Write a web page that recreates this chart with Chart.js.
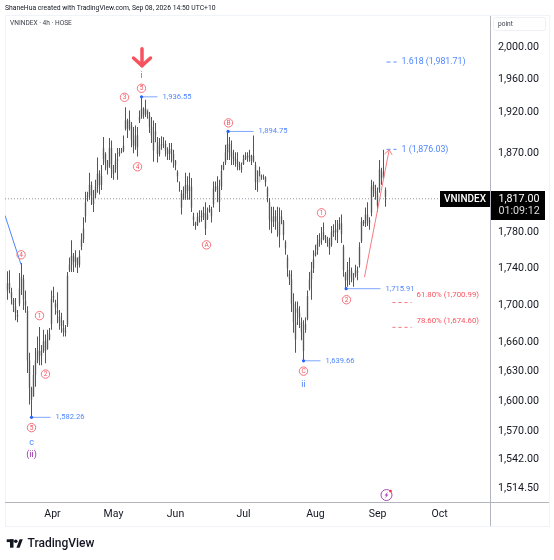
<!DOCTYPE html>
<html>
<head>
<meta charset="utf-8">
<title>VNINDEX 4h</title>
<script src="https://cdn.jsdelivr.net/npm/chart.js@4"></script>
<style>
html, body { margin: 0; padding: 0; background: #fff; }
#graph-parent { position: relative; width: 554px; height: 560px; }
canvas { display: block; }
</style>
</head>
<body>
<div id="graph-parent"><canvas id="graph" width="554" height="560" role="img" aria-label="VNINDEX 4h chart"></canvas></div>
<script>
// one row = 10 bars
const highs = [
1735,1736,1717,1706,1706,1693,1733,1744,1731,1714,
1697,1648,1613,1635,1653,1665,1675,1656,1672,1667,
1672,1674,1714,1718,1704,1712,1693,1690,1682,1677,
1734,1750,1769,1755,1758,1750,1758,1777,1795,1824,
1824,1846,1836,1826,1838,1864,1849,1855,1888,1870,
1861,1887,1884,1855,1869,1875,1875,1875,1890,1924,
1910,1920,1906,1900,1902,1900,1920,1936.55,1924,1933,
1920,1918,1912,1908,1905,1888,1887,1889,1888,1884,
1876,1881,1881,1873,1861,1849,1836,1826,1830,1846,
1842,1846,1840,1800,1790,1800,1803,1803,1807,1812,
1806,1809,1807,1836,1836,1842,1838,1855,1859,1879,
1894.75,1888,1884,1873,1870,1870,1859,1858,1867,1870,
1870,1873,1867,1890,1859,1849,1853,1844,1844,1842,
1830,1817,1807,1807,1803,1807,1806,1803,1792,1769,
1753,1736,1736,1711,1702,1702,1697,1685,1682,1685,
1714,1734,1745,1758,1764,1775,1777,1784,1789,1775,
1773,1772,1785,1787,1792,1792,1795,1798,1764,1734,
1745,1750,1739,1733,1742,1740,1767,1795,1792,1806,
1812,1795,1838,1836,1832,1829,1861,1852,1873,1829]
const lows = [
1704,1711,1699,1691,1682,1680,1697,1709,1693,1690,
1627,1595,1582.26,1603,1613,1637,1635,1635,1648,1637,
1651,1661,1672,1701,1688,1679,1672,1669,1665,1665,
1675,1734,1734,1734,1739,1733,1739,1758,1766,1789,
1813,1815,1809,1801,1817,1823,1821,1826,1855,1849,
1844,1852,1840,1838,1846,1838,1865,1869,1870,1896,
1887,1896,1876,1869,1873,1865,1905,1910,1910,1912,
1910,1893,1881,1859,1882,1858,1865,1873,1875,1865,
1861,1861,1858,1852,1849,1835,1824,1798,1815,1815,
1815,1815,1801,1785,1781,1785,1789,1790,1792,1775,
1792,1800,1789,1806,1824,1812,1801,1826,1849,1855,
1861,1861,1855,1855,1853,1849,1849,1846,1855,1861,
1859,1859,1855,1858,1826,1824,1842,1838,1838,1830,
1812,1781,1777,1784,1781,1773,1761,1787,1769,1753,
1729,1720,1691,1669,1648,1677,1674,1661,1639.66,1669,
1682,1714,1704,1733,1751,1753,1762,1764,1769,1766,
1762,1753,1762,1773,1769,1766,1781,1766,1729,1715.91,
1718,1720,1723,1718,1728,1725,1739,1766,1785,1784,
1785,1781,1796,1818,1815,1801,1823,1832,1838,1807]
const opens = [
1714,1722,1712,1704,1697,1688,1700,1716,1726,1703,
1692,1640,1612,1603,1625,1640,1650,1645,1650,1660,
1652,1662,1678,1706,1700,1690,1686,1682,1674,1669,
1678,1736,1742,1752,1745,1750,1742,1762,1770,1796,
1820,1820,1832,1820,1820,1830,1845,1832,1862,1868,
1858,1856,1875,1850,1850,1860,1868,1871,1872,1898,
1908,1898,1902,1885,1878,1890,1908,1912,1922,1915,
1922,1914,1900,1890,1890,1882,1868,1878,1880,1880,
1872,1868,1874,1868,1860,1847,1830,1822,1815,1822,
1832,1825,1830,1796,1788,1786,1795,1796,1795,1800,
1793,1802,1804,1810,1828,1830,1826,1830,1850,1858,
1870,1880,1870,1865,1862,1860,1856,1853,1856,1862,
1866,1864,1866,1860,1855,1835,1835,1842,1841,1841,
1828,1812,1792,1790,1796,1790,1790,1790,1790,1767,
1750,1732,1726,1700,1680,1695,1690,1680,1670,1672,
1684,1716,1726,1738,1752,1758,1766,1770,1772,1774,
1770,1766,1764,1778,1780,1778,1782,1788,1762,1732,
1725,1736,1735,1728,1730,1736,1742,1768,1790,1788,
1798,1792,1800,1832,1825,1822,1826,1848,1840,1826]
const closes = [
1722,1716,1706,1698,1690,1686,1716,1728,1704,1698,
1640,1612,1600,1625,1640,1650,1645,1650,1660,1650,
1662,1668,1705,1708,1696,1692,1680,1676,1670,1671,
1730,1742,1752,1745,1750,1742,1752,1770,1782,1812,
1818,1832,1820,1810,1830,1845,1832,1842,1875,1858,
1852,1875,1850,1845,1860,1862,1870,1872,1878,1908,
1898,1908,1885,1878,1890,1876,1912,1922,1915,1922,
1915,1900,1890,1872,1895,1868,1878,1880,1880,1872,
1868,1874,1868,1860,1855,1842,1830,1806,1822,1832,
1825,1830,1806,1792,1786,1795,1796,1795,1800,1782,
1798,1804,1796,1828,1830,1826,1812,1848,1855,1870,
1880,1870,1865,1862,1860,1856,1853,1850,1862,1866,
1864,1866,1860,1866,1835,1835,1848,1841,1841,1835,
1818,1792,1790,1796,1790,1790,1775,1796,1775,1760,
1738,1726,1700,1680,1662,1690,1685,1670,1650,1678,
1708,1726,1736,1748,1756,1766,1770,1772,1778,1770,
1766,1760,1778,1780,1778,1782,1788,1776,1736,1725,
1736,1735,1728,1725,1736,1733,1762,1790,1788,1798,
1792,1788,1830,1825,1822,1808,1850,1840,1845,1818]

const priceTicks = [2000, 1960, 1920, 1870, 1780, 1740, 1700, 1660, 1630, 1600, 1570, 1542, 1514.5]
const monthBars = [22.5, 53, 84, 118, 154, 185, 216]
const monthNames = ["Apr", "May", "Jun", "Jul", "Aug", "Sep", "Oct"]

const lastPrice = "1,817.00"
const lastLinePrice = 1816
const countdown = "01:09:12"

// [text, bar, price]
const circleMarks = [
  ["3", 58.5, 1936], ["4", 65, 1853], ["5", 67, 1947], ["A", 99.5, 1764], ["B", 110.5, 1905],
  ["4", 6.8, 1753], ["1", 16, 1687], ["2", 19, 1626], ["5", 12, 1572], ["C", 148, 1629],
  ["2", 169.5, 1704], ["1", 157, 1800]
]
const blueWaves = [["i", 67, 1962], ["ii", 148, 1615], ["c", 12, 1557]]
const purpleWaves = [["(ii)", 12, 1545]]
// [text, start bar, end bar, price]
const pivots = [
  ["1,936.55", 67, 75, 1936.55],
  ["1,894.75", 110.3, 123, 1894.75],
  ["1,582.26", 12, 21.5, 1582.26],
  ["1,639.66", 148, 156.5, 1639.66],
  ["1,715.91", 169.3, 186.5, 1715.91]
]
const blueFibs = [["1.618 (1,981.71)", 1979.5], ["1 (1,876.03)", 1873.5]]
const redFibs = [["61.80% (1,700.99)", 1700.99, 1709], ["78.60% (1,674.60)", 1674.6, 1681.5]]

const BLUE = "#4f86ff"
const RED = "#f7525f"

function lineSet(points, color, width, extra) {
  return Object.assign({
    type: "line",
    data: points.map(p => ({ x: p[0], y: p[1] })),
    borderColor: color,
    borderWidth: width,
    pointRadius: 0,
    tension: 0,
    order: 0
  }, extra || {})
}

const bars = highs.map((h, i) => ({ x: i, y: [lows[i], h] }))
const bodies = opens.map((o, i) => ({ x: i, y: [o, closes[i]] }))

const datasets = [
  { type: "bar", data: bars, backgroundColor: "#555555", barThickness: 1, borderWidth: 0, inflateAmount: 0, order: 2 },
  { type: "bar", data: bodies, backgroundColor: "#c4c4c4", barThickness: 2, borderWidth: 0, inflateAmount: 0, order: 3 },
  lineSet([[-1.25, lastLinePrice], [216.25, lastLinePrice]], "#9598a1", 1, { borderDash: [1, 2], order: 4 }),
  lineSet([[-1.25, 1797], [6.8, 1742]], BLUE, 1),
  lineSet([[178.5, 1728.6], [190.85, 1873]], "#f77c80", 1),
  lineSet([[188.5, 1868], [190.85, 1873], [192.3, 1867]], "#f77c80", 1),
  lineSet([[67.25, 1996], [67.25, 1975]], RED, 3.5, { borderCapStyle: "round" }),
  lineSet([[63, 1984.5], [67.25, 1975], [71.5, 1984.5]], RED, 3.5, { borderCapStyle: "round", borderJoinStyle: "round" })
]
pivots.forEach(p => {
  datasets.push(lineSet([[p[1], p[3]], [p[2], p[3]]], "#7ea6ff", 1, { pointRadius: [1.6, 0], pointBackgroundColor: "#2962ff", pointBorderWidth: 0 }))
})
blueFibs.forEach(f => {
  datasets.push(lineSet([[189.5, f[1]], [194.5, f[1]]], "#5b8fff", 1, { borderDash: [4, 3] }))
})
redFibs.forEach(f => {
  datasets.push(lineSet([[192.5, f[1]], [202, f[1]]], "#f7727c", 1, { borderDash: [3, 3] }))
})

const FONT = "Roboto, sans-serif"

const chrome = {
  id: "chrome",
  beforeDraw(chart) {
    const c = chart.ctx
    c.save()
    c.fillStyle = "#fff"
    c.fillRect(0, 0, 554, 560)
    c.strokeStyle = "#f0f3fa"
    c.lineWidth = 1
    c.strokeRect(5.5, 15.5, 544, 511)
    c.restore()
  },
  afterDraw(chart) {
    const c = chart.ctx
    const x = chart.scales.x
    const y = chart.scales.y
    c.save()
    c.textBaseline = "middle"

    // axis rules carried past the plot
    c.strokeStyle = "#b2b5be"
    c.beginPath()
    c.moveTo(490.5, 502); c.lineTo(490.5, 526)
    c.moveTo(490, 502.5); c.lineTo(549, 502.5)
    c.stroke()

    c.fillStyle = "#131722"
    c.font = "6.8px " + FONT
    c.fillText("ShaneHua created with TradingView.com, Sep 08, 2026 14:50 UTC+10", 5, 8.5)
    c.fillStyle = "#3a3e4a"
    c.font = "6.6px " + FONT
    c.fillText("VNINDEX · 4h · HOSE", 10, 23.5)

    // unit box
    c.strokeStyle = "#eef0f5"
    c.beginPath()
    c.roundRect(493.5, 17.5, 52, 13, 2)
    c.stroke()
    c.fillStyle = "#3a3e4a"
    c.font = "6.6px " + FONT
    c.fillText("point", 498, 24.5)

    // wave counts
    c.textAlign = "center"
    circleMarks.forEach(m => {
      const px = x.getPixelForValue(m[1])
      const py = y.getPixelForValue(m[2])
      c.strokeStyle = "#f7727c"
      c.lineWidth = 1
      c.beginPath()
      c.arc(px, py, 4.2, 0, Math.PI * 2)
      c.stroke()
      c.fillStyle = "#f7525f"
      c.font = "6.5px " + FONT
      c.fillText(m[0], px, py + 0.5)
    })
    c.font = "9px " + FONT
    c.fillStyle = BLUE
    blueWaves.forEach(m => c.fillText(m[0], x.getPixelForValue(m[1]), y.getPixelForValue(m[2])))
    c.fillStyle = "#9c27b0"
    purpleWaves.forEach(m => c.fillText(m[0], x.getPixelForValue(m[1]), y.getPixelForValue(m[2])))

    // level labels
    c.textAlign = "left"
    c.font = "7.6px " + FONT
    c.fillStyle = BLUE
    pivots.forEach(p => c.fillText(p[0], x.getPixelForValue(p[2]) + 5, y.getPixelForValue(p[3])))
    c.font = "8.8px " + FONT
    blueFibs.forEach(f => c.fillText(f[0], x.getPixelForValue(197), y.getPixelForValue(f[1])))
    c.font = "7.8px " + FONT
    c.fillStyle = RED
    redFibs.forEach(f => c.fillText(f[0], x.getPixelForValue(204.5), y.getPixelForValue(f[2])))

    // last price tags
    const tagY = Math.round(y.getPixelForValue(lastLinePrice))
    c.fillStyle = "#000"
    c.fillRect(440, tagY - 8, 50, 16)
    c.fillRect(491, tagY - 8, 54, 29)
    c.fillStyle = "#fff"
    c.textAlign = "center"
    c.font = "500 10px " + FONT
    c.fillText("VNINDEX", 465, tagY + 0.5)
    c.textAlign = "left"
    c.font = "10.7px " + FONT
    c.fillText(lastPrice, 498.5, tagY + 0.5)
    c.fillStyle = "#dcdcdc"
    c.fillText(countdown, 498.5, tagY + 12.5)

    // data window badge
    const bx = x.getPixelForValue(189.5)
    const by = y.getPixelForValue(1506.6)
    c.strokeStyle = "#ab47bc"
    c.lineWidth = 1
    c.beginPath()
    c.arc(bx, by, 5.5, 0, Math.PI * 2)
    c.stroke()
    c.fillStyle = "#ab47bc"
    c.beginPath()
    c.moveTo(bx + 1.5, by - 3.5); c.lineTo(bx - 2, by + 0.5); c.lineTo(bx - 0.2, by + 0.5)
    c.lineTo(bx - 1.5, by + 3.5); c.lineTo(bx + 2, by - 0.5); c.lineTo(bx + 0.2, by - 0.5)
    c.closePath()
    c.fill()
    c.fillStyle = "#f23645"
    c.beginPath()
    c.arc(bx + 4, by - 4, 1.4, 0, Math.PI * 2)
    c.fill()

    // TradingView mark
    c.fillStyle = "#131722"
    c.fillRect(6.7, 539.3, 6.8, 2.8)
    c.fillRect(10, 539.3, 3.5, 8.4)
    c.beginPath()
    c.arc(15.8, 541.2, 1.8, 0, Math.PI * 2)
    c.fill()
    c.beginPath()
    c.moveTo(16.4, 547.7); c.lineTo(19.6, 539.3); c.lineTo(22.8, 539.3); c.lineTo(19.6, 547.7)
    c.closePath()
    c.fill()
    c.font = "500 12px " + FONT
    c.fillText("TradingView", 27.5, 543.5)
    c.restore()
  }
}

new Chart(document.getElementById("graph").getContext("2d"), {
  type: "bar",
  data: { datasets: datasets },
  options: {
    responsive: false,
    animation: false,
    layout: { padding: { left: 5, top: 16, right: 5, bottom: 34 } },
    plugins: { legend: { display: false }, tooltip: { enabled: false } },
    scales: {
      x: {
        type: "linear",
        offset: false,
        min: -1.25,
        max: 241.25,
        grid: { display: false, drawTicks: false },
        border: { color: "#b2b5be" },
        ticks: {
          autoSkip: false,
          maxRotation: 0,
          padding: 6,
          color: "#131722",
          font: { family: "Roboto", size: 10.5 },
          callback: v => monthNames[monthBars.indexOf(v)]
        },
        afterBuildTicks: axis => { axis.ticks = monthBars.map(v => ({ value: v })) },
        afterFit: axis => { axis.height = 24 }
      },
      y: {
        type: "logarithmic",
        position: "right",
        min: 1500,
        max: 2037.8,
        grid: { display: false, drawTicks: false },
        border: { color: "#b2b5be" },
        ticks: {
          autoSkip: false,
          padding: 8,
          labelOffset: 1.5,
          color: "#131722",
          font: { family: "Roboto", size: 10.7 },
          callback: v => v.toLocaleString("en-US", { minimumFractionDigits: 2, maximumFractionDigits: 2 })
        },
        afterBuildTicks: axis => { axis.ticks = priceTicks.map(v => ({ value: v })) },
        afterFit: axis => { axis.width = 59 }
      }
    },
    datasets: { bar: { grouped: false } }
  },
  plugins: [chrome]
})
</script>
</body>
</html>
